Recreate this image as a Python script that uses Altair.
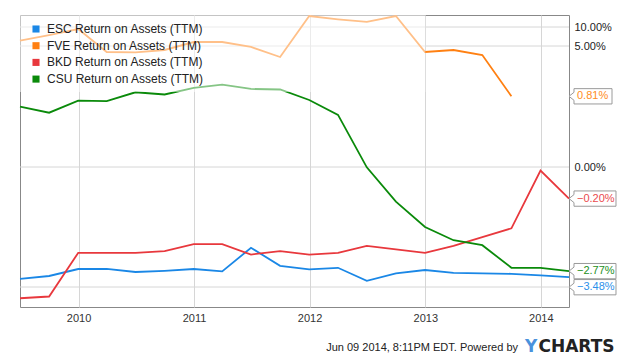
import altair as alt
import pandas as pd

# ---------------- data ----------------
dates = ["2009-06-30", "2009-09-30", "2009-12-31", "2010-03-31", "2010-06-30",
         "2010-09-30", "2010-12-31", "2011-03-31", "2011-06-30", "2011-09-30",
         "2011-12-31", "2012-03-31", "2012-06-30", "2012-09-30", "2012-12-31",
         "2013-03-31", "2013-06-30", "2013-09-30", "2013-12-31", "2014-03-31"]

names = ["ESC Return on Assets (TTM)", "FVE Return on Assets (TTM)",
         "BKD Return on Assets (TTM)", "CSU Return on Assets (TTM)"]

esc = [-3.56, -3.42, -3.07, -3.06, -3.22, -3.16, -3.07, -3.19, -2.01, -2.91,
       -3.09, -3.01, -3.66, -3.29, -3.12, -3.26, -3.29, -3.31, -3.39, -3.48]
fve = [7.44, 8.10, 8.83, 6.09, 6.05, 6.33, 7.28, 7.28, 6.69, 5.49,
       10.38, 9.99, 9.67, 10.38, 6.09, 6.33, 5.73, 0.81, None, None]
bkd = [-0.77, -0.76, -0.51, -0.51, -0.51, -0.50, -0.46, -0.46, -0.52, -0.50,
       -0.52, -0.51, -0.47, -0.49, -0.51, -0.47, -0.42, -0.37, -0.04, -0.20]
csu = [0.21, 0.10, 0.32, 0.31, 0.47, 0.43, 0.55, 0.61, 0.53, 0.52,
       0.33, 0.06, -0.89, -1.51, -1.97, -2.21, -2.30, -2.71, -2.71, -2.77]

series_values = [esc, fve, bkd, csu]

# each series sits on its own value axis (as in the original chart)
y_domains = [[-4.97, 9.63], [-24.3, 10.5], [-0.82, 0.85], [-3.42, 1.87]]

# right-hand reference axis
grid_ticks = [-5, 0, 5, 10]

year_ticks = [2010, 2011, 2012, 2013, 2014]
x_start = (2009, 6, 30)
x_end = (2014, 3, 31)

footer_text = "Jun 09 2014, 8:11PM EDT.  Powered by"
logo_first = "Y"
logo_rest = "CHARTS"

# ---------------- styles ----------------
line_colors = ["#1a87e6", "#ff8012", "#e8383d", "#0a8a0a"]
label_colors = ["#2b90ea", "#ff8c22", "#ea4a4e", "#239023"]
label_dy = [10, 0, 0, 0]
FONT = "Liberation Sans"

BOX_WIDE = ("M -1 0 L -0.7917 -0.1667 L -0.7917 -0.3188 L 0.9583 -0.3188 "
            "L 0.9583 0.3188 L -0.7917 0.3188 L -0.7917 0.1667 Z")
BOX_NARROW = ("M -1 0 L -0.7917 -0.1667 L -0.7917 -0.3188 L 0.7917 -0.3188 "
              "L 0.7917 0.3188 L -0.7917 0.3188 L -0.7917 0.1667 Z")

# ---------------- build ----------------
rows = []
for n, vals in zip(names, series_values):
    for d, v in zip(dates, vals):
        if v is not None:
            rows.append({"date": d, "series": n, "value": v})
df = pd.DataFrame(rows)


def dt(t):
    return alt.DateTime(year=t[0], month=t[1], date=t[2], utc=True)


xscale = alt.Scale(type="utc", domain=[dt(x_start), dt(x_end)])
xaxis = alt.Axis(values=[alt.DateTime(year=y, month=1, date=1, utc=True) for y in year_ticks],
                 format="%Y", title=None, grid=True, gridColor="#d6d6d6",
                 gridWidth=1, ticks=False, tickSize=0, domain=False,
                 labelFont=FONT, labelFontSize=11, labelColor="#333333",
                 labelPadding=5)

grid_layer = alt.Chart(pd.DataFrame({"g": grid_ticks})).mark_rule(
    color="#d6d6d6", strokeWidth=1
).encode(
    y=alt.Y("g:Q",
            scale=alt.Scale(domain=grid_ticks, range=[272, 152, 31, 12]),
            axis=alt.Axis(orient="right", values=grid_ticks, title=None,
                          grid=False, ticks=False, tickSize=0, domain=False,
                          labelFont=FONT, labelFontSize=11, labelColor="#222222",
                          labelPadding=5,
                          labelExpr="datum.value == -5 ? '' : format(datum.value, '.2f') + '%'"))
)

series_layers = []
end_date = "%04d-%02d-%02d" % x_end
for i, n in enumerate(names):
    yscale = alt.Scale(domain=y_domains[i], zero=False, nice=False)
    sub = df[df["series"] == n]
    line = alt.Chart(sub).mark_line(color=line_colors[i], strokeWidth=1.8).encode(
        x=alt.X("date:T", scale=xscale, axis=xaxis),
        y=alt.Y("value:Q", scale=yscale, axis=None),
    )
    last_val = [v for v in series_values[i] if v is not None][-1]
    lab = pd.DataFrame({"date": [end_date], "value": [last_val]})
    shape = BOX_NARROW if last_val >= 0 else BOX_WIDE
    box = alt.Chart(lab).mark_point(
        shape=shape, size=2304, filled=True, fill="white", stroke="#9a9a9a",
        strokeWidth=1, opacity=1, xOffset=24, yOffset=label_dy[i]
    ).encode(
        x=alt.X("date:T", scale=xscale, axis=xaxis),
        y=alt.Y("value:Q", scale=yscale, axis=None),
    )
    txt = alt.Chart(lab).transform_calculate(
        label="format(datum.value, '.2f') + '%'"
    ).mark_text(
        align="left", baseline="middle", dx=8, dy=label_dy[i],
        font=FONT, fontSize=11, color=label_colors[i]
    ).encode(
        x=alt.X("date:T", scale=xscale, axis=xaxis),
        y=alt.Y("value:Q", scale=yscale, axis=None),
        text="label:N",
    )
    series_layers.append(alt.layer(line, box, txt))

# translucent legend panel (top-left)
panel = alt.Chart(pd.DataFrame({"d1": ["2009-06-30"], "d2": ["2013-01-01"]})).mark_rect(
    color="white", opacity=0.5
).encode(
    x=alt.X("d1:T", scale=xscale, axis=xaxis),
    x2="d2:T",
    y=alt.value(0),
    y2=alt.value(77),
)

legend_layer = alt.Chart(df).transform_filter("false").mark_square(
    filled=True, opacity=1
).encode(
    color=alt.Color("series:N",
                    scale=alt.Scale(domain=names, range=line_colors),
                    legend=alt.Legend(orient="none", legendX=10, legendY=8,
                                      title=None, symbolType="square",
                                      symbolSize=50, symbolStrokeWidth=0,
                                      labelFont=FONT, labelFontSize=12,
                                      labelColor="#222222", labelOffset=5,
                                      rowPadding=4.7, padding=0,
                                      labelLimit=400))
)

footer = alt.Chart(pd.DataFrame({"t": [footer_text]})).mark_text(
    align="right", baseline="middle", font=FONT, fontSize=11, color="#222222"
).encode(x=alt.value(498), y=alt.value(332.5), text="t:N")

logo_y = alt.Chart(pd.DataFrame({"t": [logo_first]})).mark_text(
    align="left", baseline="middle", font="DejaVu Sans", fontWeight="bold",
    fontSize=17, color="#4a92dc"
).encode(x=alt.value(505), y=alt.value(331.5), text="t:N")

logo = alt.Chart(pd.DataFrame({"t": [logo_rest]})).mark_text(
    align="left", baseline="middle", font="DejaVu Sans", fontWeight="bold",
    fontSize=17, color="#222222"
).encode(x=alt.value(518.5), y=alt.value(331.5), text="t:N")

chart = alt.layer(
    grid_layer, *series_layers, panel, legend_layer, footer, logo_y, logo
).resolve_scale(
    y="independent"
).properties(
    width=549, height=292,
    padding={"left": 12, "top": 7, "right": 58, "bottom": 47},
    autosize=alt.AutoSizeParams(type="none"),
    background="white",
).configure_view(
    fill="#eaf0fb", stroke="#888888", strokeWidth=1
)

chart.save("out.html", embed_options={"renderer": "svg", "actions": False})
